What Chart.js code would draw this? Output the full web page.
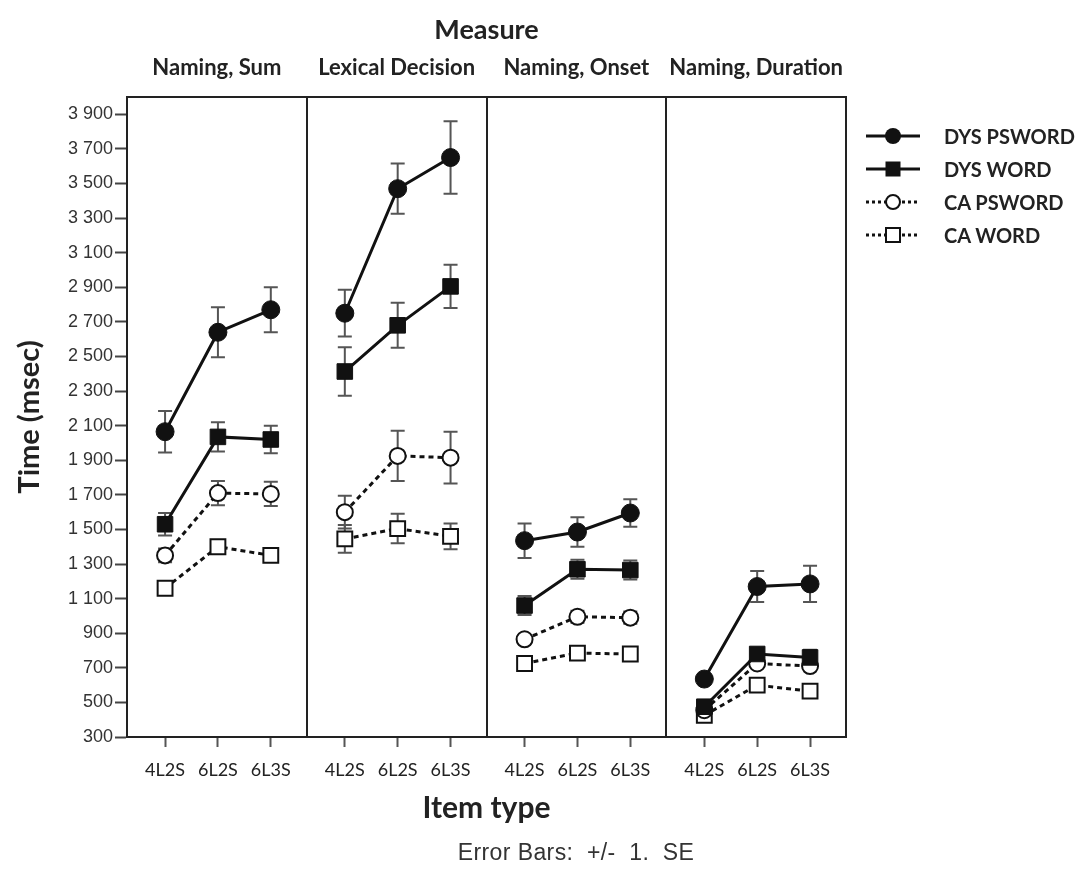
<!DOCTYPE html>
<html>
<head>
<meta charset="utf-8">
<script src="https://cdn.jsdelivr.net/npm/chart.js@4.4.1/dist/chart.umd.min.js"></script>
<style>
  html, body { margin: 0; padding: 0; background: #fff; }
  #wrap { position: relative; width: 1079px; height: 871px; background: #fff; }
  #chart { position: absolute; left: 0; top: 0; }
  .legend { position: absolute; left: 862px; top: 119px; font-family: Lato, 'Open Sans', sans-serif; font-weight: 700; font-size: 20px; color: #222; }
  .row { display: flex; align-items: center; height: 33px; }
  .row svg { width: 62px; height: 24px; margin-right: 20px; flex: none; }
  #note { position: absolute; left: 376px; width: 400px; top: 839px; text-align: center; font-family: 'Liberation Sans', Arial, sans-serif; font-size: 23px; letter-spacing: 0.4px; color: #333; white-space: pre; }
</style>
</head>
<body>
<div id="wrap">
  <canvas id="chart" width="1079" height="871"></canvas>
  <div class="legend" id="legend"></div>
  <div id="note">Error Bars:  +/-  1.  SE</div>
</div>
<script>
// ---- data ----
const measures = ['Naming, Sum', 'Lexical Decision', 'Naming, Onset', 'Naming, Duration'];
const itemTypes = ['4L2S', '6L2S', '6L3S'];
const seriesNames = ['DYS PSWORD', 'DYS WORD', 'CA PSWORD', 'CA WORD'];

const dysPsword   = [2065, 2640, 2770,  2750, 3470, 3650,  1435, 1485, 1595,  635, 1170, 1185];
const dysPswordSE = [120, 145, 130,  135, 145, 210,  100, 85, 80,  25, 90, 105];
const dysWord     = [1530, 2035, 2020,  2413, 2680, 2905,  1060, 1270, 1265,  475, 780, 760];
const dysWordSE   = [65, 85, 80,  140, 130, 125,  55, 55, 55,  25, 30, 45];
const caPsword    = [1350, 1710, 1705,  1600, 1925, 1915,  865, 995, 990,  455, 725, 710];
const caPswordSE  = [40, 70, 70,  95, 145, 150,  25, 35, 35,  20, 20, 20];
const caWord      = [1160, 1400, 1350,  1445, 1505, 1460,  725, 785, 780,  425, 600, 565];
const caWordSE    = [25, 30, 25,  80, 85, 75,  20, 20, 20,  20, 20, 20];

const yTicks = [300, 500, 700, 900, 1100, 1300, 1500, 1700, 1900, 2100, 2300, 2500, 2700, 2900, 3100, 3300, 3500, 3700, 3900];

// ---- layout of the faceted x scale ----
const PANEL = 3.4, OFFSET = 0.72;
const xMax = measures.length * PANEL;
const catPos = [];
measures.forEach((m, p) => itemTypes.forEach((t, i) => catPos.push(p * PANEL + OFFSET + i)));
const panelCenters = measures.map((m, p) => p * PANEL + PANEL / 2);
const panelEdges = measures.map((m, p) => (p + 1) * PANEL);

function buildPoints(vals, ses) {
  const pts = [];
  measures.forEach((m, p) => {
    itemTypes.forEach((t, i) => {
      const k = p * itemTypes.length + i;
      pts.push({ x: catPos[k], y: vals[k], se: ses[k] });
    });
    if (p < measures.length - 1) pts.push({ x: (p + 1) * PANEL, y: null, se: 0 });
  });
  return pts;
}

const styles = [
  { dash: [], pointStyle: 'circle', radius: 9, fill: '#111', bw: 1 },
  { dash: [], pointStyle: 'rect', radius: 11, fill: '#111', bw: 1 },
  { dash: [5, 4], pointStyle: 'circle', radius: 8, fill: '#fff', bw: 2 },
  { dash: [5, 4], pointStyle: 'rect', radius: 10.5, fill: '#fff', bw: 2 }
];
const seriesVals = [dysPsword, dysWord, caPsword, caWord];
const seriesSE = [dysPswordSE, dysWordSE, caPswordSE, caWordSE];

const datasets = seriesNames.map((name, s) => ({
  label: name,
  data: buildPoints(seriesVals[s], seriesSE[s]),
  borderColor: '#111',
  borderWidth: 3,
  borderDash: styles[s].dash,
  pointStyle: styles[s].pointStyle,
  pointRadius: styles[s].radius,
  pointHoverRadius: styles[s].radius,
  pointBackgroundColor: styles[s].fill,
  pointBorderColor: '#111',
  pointBorderWidth: styles[s].bw,
  spanGaps: false,
  tension: 0,
  fill: false
}));

const errorBars = {
  id: 'errorBars',
  beforeDatasetsDraw(chart) {
    const ctx = chart.ctx, y = chart.scales.y;
    ctx.save();
    ctx.strokeStyle = '#555';
    ctx.lineWidth = 2;
    chart.data.datasets.forEach((ds, di) => {
      const meta = chart.getDatasetMeta(di);
      meta.data.forEach((pt, j) => {
        const raw = ds.data[j];
        if (raw.y == null) return;
        const top = y.getPixelForValue(raw.y + raw.se);
        const bot = y.getPixelForValue(raw.y - raw.se);
        ctx.beginPath();
        ctx.moveTo(pt.x, top); ctx.lineTo(pt.x, bot);
        ctx.moveTo(pt.x - 7, top); ctx.lineTo(pt.x + 7, top);
        ctx.moveTo(pt.x - 7, bot); ctx.lineTo(pt.x + 7, bot);
        ctx.stroke();
      });
    });
    ctx.restore();
  }
};

const fmt = v => v >= 1000 ? Math.floor(v / 1000) + ' ' + String(v % 1000).padStart(3, '0') : String(v);

new Chart(document.getElementById('chart'), {
  type: 'line',
  data: { datasets },
  plugins: [errorBars],
  options: {
    responsive: false,
    animation: false,
    events: [],
    layout: { padding: { left: 0, right: 233, top: 0, bottom: 0 } },
    plugins: { legend: { display: false }, tooltip: { enabled: false } },
    scales: {
      x: {
        type: 'linear', position: 'bottom', min: 0, max: xMax,
        afterBuildTicks: s => { s.ticks = catPos.map(v => ({ value: v })); },
        afterFit: s => { s.height = 134; },
        ticks: {
          autoSkip: false, maxRotation: 0, minRotation: 0, padding: 12,
          color: '#222', font: { family: 'Lato', size: 18 },
          callback: (v, i) => itemTypes[i % itemTypes.length]
        },
        grid: { drawOnChartArea: false, drawTicks: true, tickLength: 10, tickColor: '#555', tickWidth: 2 },
        border: { display: true, color: '#222', width: 2 },
        title: { display: true, text: 'Item type', color: '#222', font: { family: 'Lato', weight: 'bold', size: 30 }, padding: { top: 0, bottom: 45 } }
      },
      xb: {
        type: 'linear', position: 'bottom', min: 0, max: xMax,
        afterBuildTicks: s => { s.ticks = panelEdges.map(v => ({ value: v })); },
        afterFit: s => { s.height = 0; },
        ticks: { display: false },
        grid: { drawTicks: false, color: '#222', lineWidth: 2 },
        border: { display: false }
      },
      xt: {
        type: 'linear', position: 'top', min: 0, max: xMax,
        afterBuildTicks: s => { s.ticks = panelCenters.map(v => ({ value: v })); },
        afterFit: s => { s.height = 97; },
        ticks: {
          autoSkip: false, maxRotation: 0, minRotation: 0, padding: 16,
          color: '#222', font: { family: 'Lato', weight: 'bold', size: 22 },
          callback: (v, i) => measures[i]
        },
        grid: { drawOnChartArea: false, drawTicks: false, color: 'rgba(0,0,0,0)' },
        border: { display: true, color: '#222', width: 2 },
        title: { display: true, text: 'Measure', color: '#222', font: { family: 'Lato', weight: 'bold', size: 27 }, padding: { top: 14, bottom: 0 } }
      },
      y: {
        type: 'linear', position: 'left', min: 300, max: 4000,
        afterBuildTicks: s => { s.ticks = yTicks.map(v => ({ value: v })); },
        afterFit: s => { s.width = 127; },
        ticks: { padding: 2, color: '#333', font: { family: 'Liberation Sans', size: 18 }, callback: v => fmt(v) },
        grid: { drawOnChartArea: false, drawTicks: true, tickLength: 12, tickColor: '#444', tickWidth: 2 },
        border: { display: true, color: '#222', width: 2 },
        title: { display: true, text: 'Time (msec)', color: '#222', font: { family: 'Lato', weight: 'bold', size: 29 }, padding: { top: 12, bottom: 0 } }
      }
    }
  }
});

// ---- legend (HTML text with line/marker symbols) ----
const legend = document.getElementById('legend');
seriesNames.forEach((name, s) => {
  const dashed = styles[s].dash.length > 0;
  const line = dashed
    ? '<line x1="4" y1="12" x2="58" y2="12" stroke="#111" stroke-width="3" stroke-dasharray="3,3"/>'
    : '<line x1="4" y1="12" x2="58" y2="12" stroke="#111" stroke-width="3"/>';
  let marker;
  if (styles[s].pointStyle === 'circle') {
    marker = dashed
      ? '<circle cx="31" cy="12" r="7" fill="#fff" stroke="#111" stroke-width="2"/>'
      : '<circle cx="31" cy="12" r="8" fill="#111"/>';
  } else {
    marker = dashed
      ? '<rect x="24" y="5" width="14" height="14" fill="#fff" stroke="#111" stroke-width="2"/>'
      : '<rect x="23.5" y="4.5" width="15" height="15" fill="#111"/>';
  }
  const row = document.createElement('div');
  row.className = 'row';
  row.innerHTML = '<svg viewBox="0 0 62 24">' + line + marker + '</svg><span>' + name + '</span>';
  legend.appendChild(row);
});
</script>
</body>
</html>
